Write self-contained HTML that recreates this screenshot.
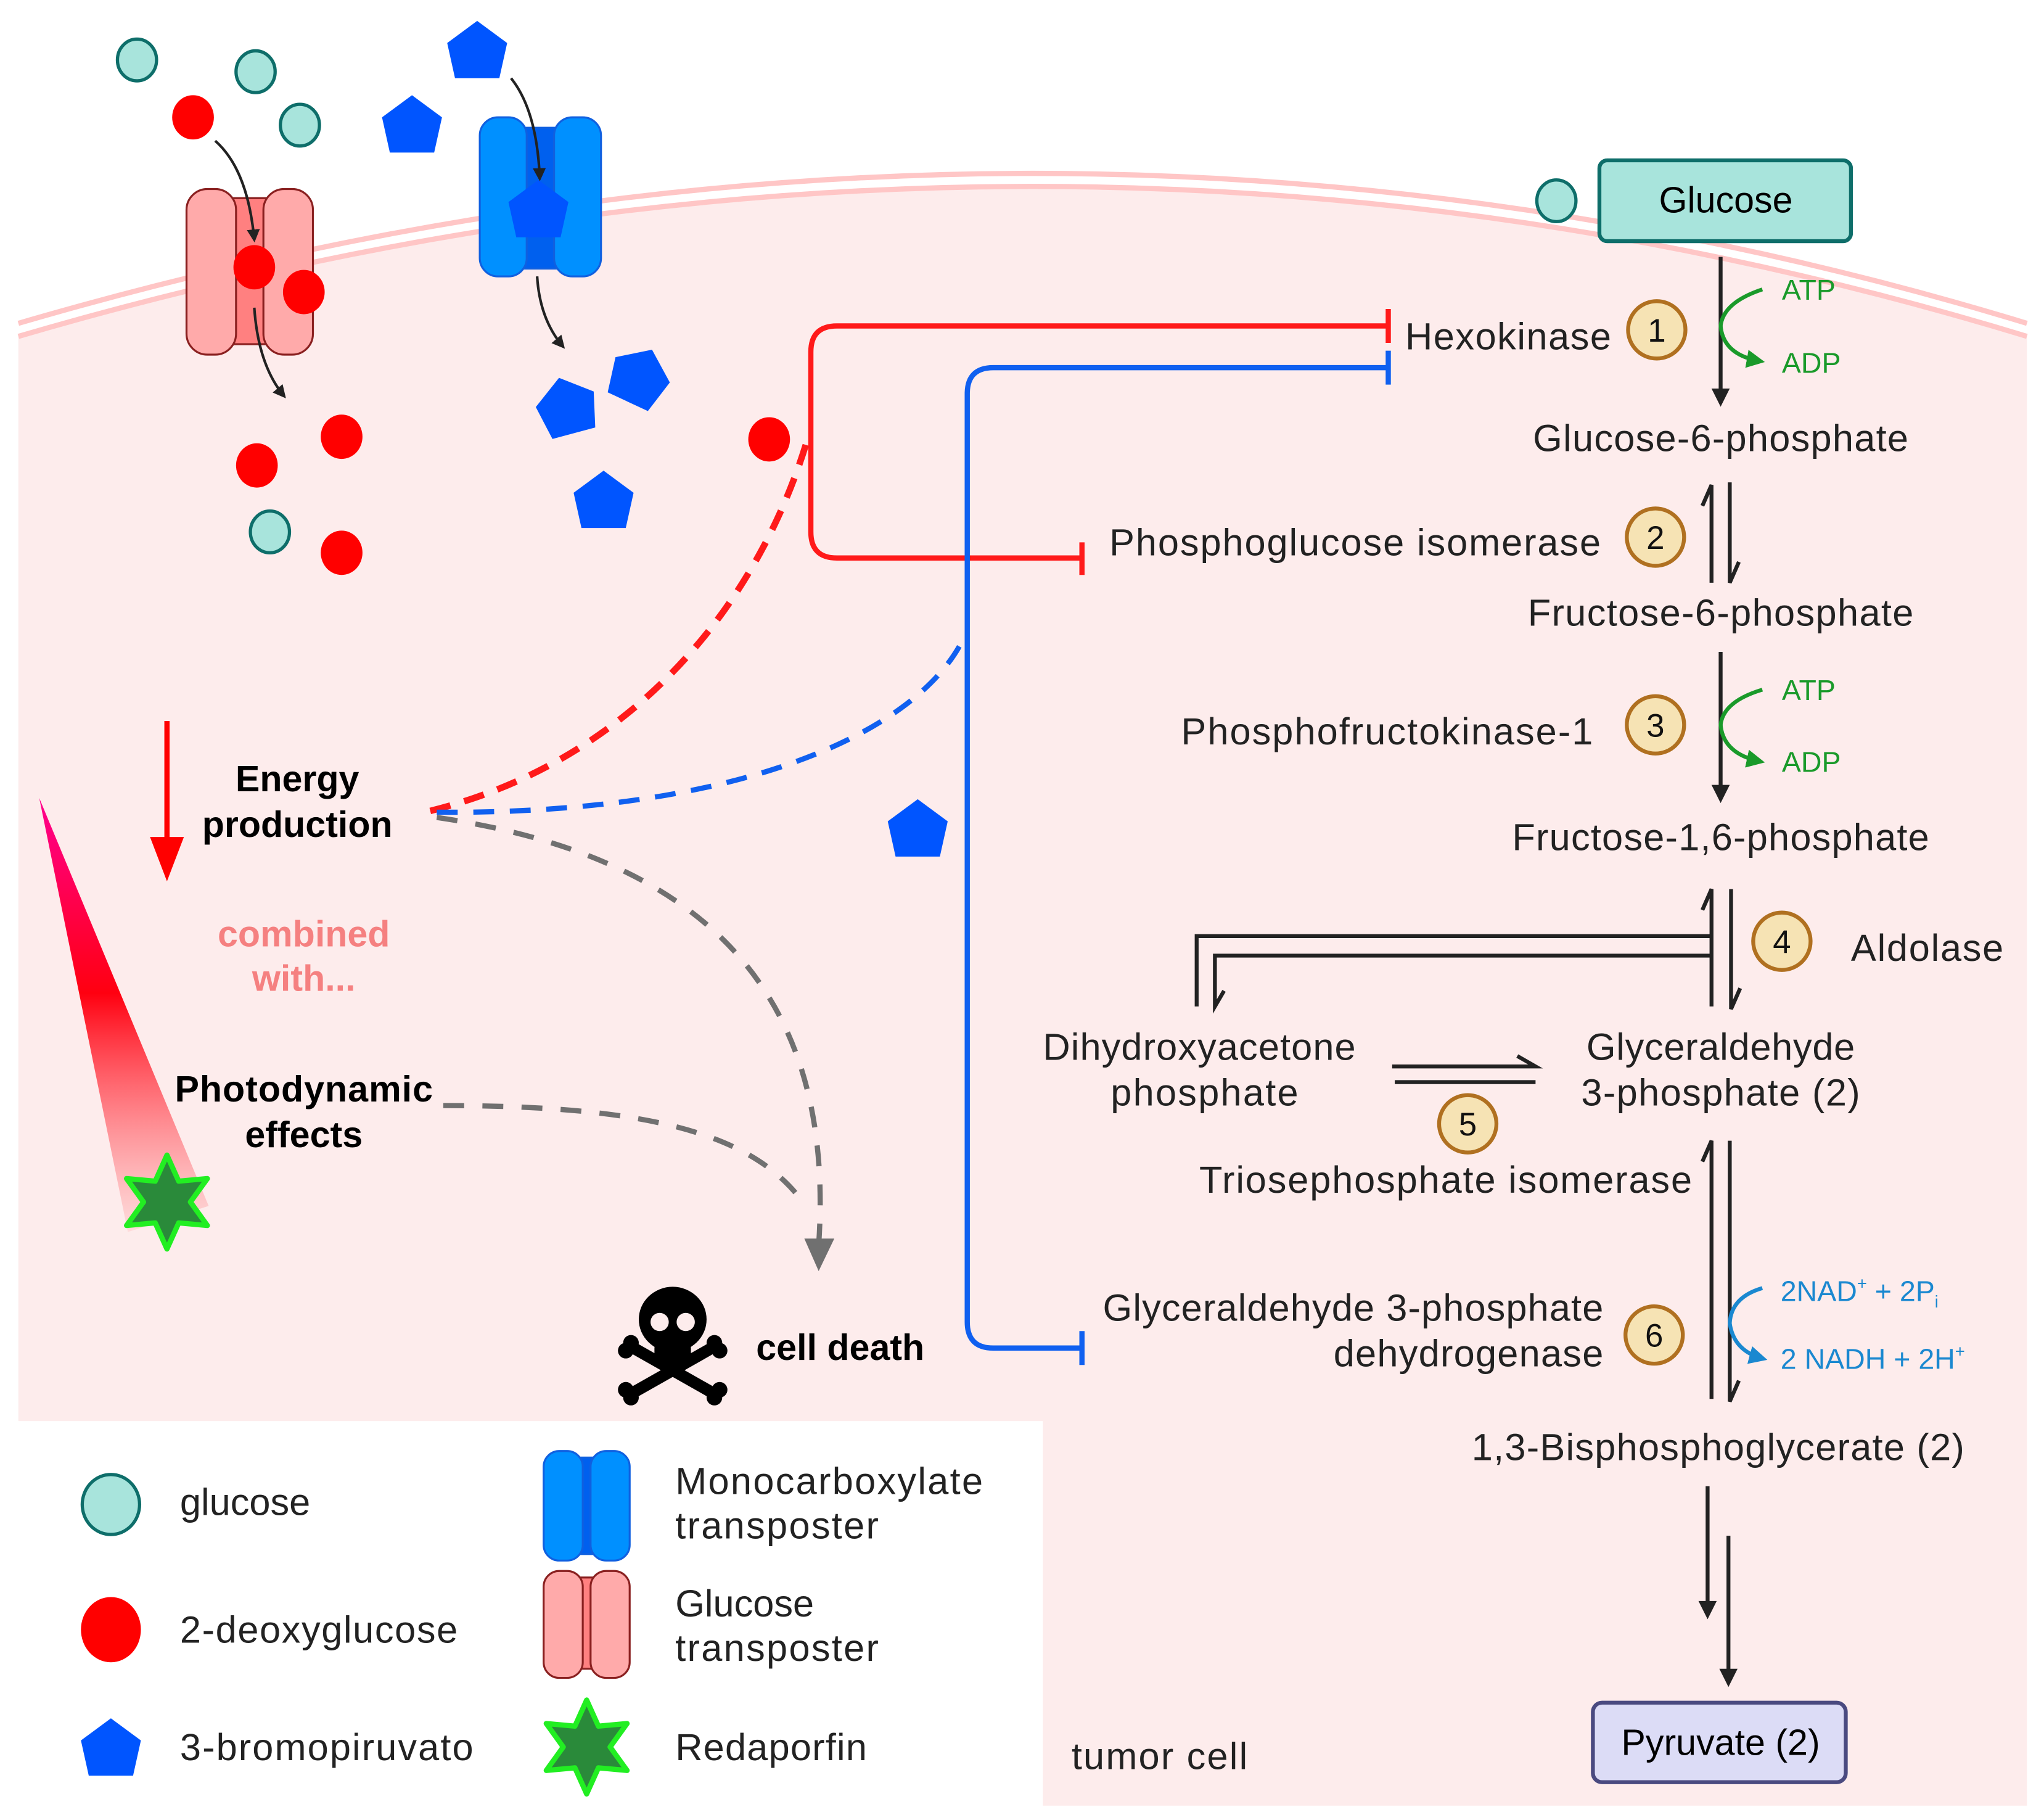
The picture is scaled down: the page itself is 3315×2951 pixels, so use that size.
<!DOCTYPE html>
<html><head><meta charset="utf-8"><style>html,body{margin:0;padding:0;background:#fff}svg{display:block}text{font-family:"Liberation Sans",sans-serif}</style></head><body>
<svg width="3315" height="2951" viewBox="0 0 1568 1396" xmlns="http://www.w3.org/2000/svg">
<defs>
<linearGradient id="cone" x1="0" y1="0" x2="0" y2="1"><stop offset="0" stop-color="#ff0090"/><stop offset="0.45" stop-color="#ff0010"/><stop offset="1" stop-color="#ffd0d0" stop-opacity="0.6"/></linearGradient>
<marker id="ab" markerWidth="10" markerHeight="10" refX="8" refY="5" orient="auto" markerUnits="userSpaceOnUse"><path d="M0,0 L10,5 L0,10 z" fill="#222"/></marker>
<marker id="ag" markerWidth="14" markerHeight="14" refX="10" refY="7" orient="auto" markerUnits="userSpaceOnUse"><path d="M0,0 L14,7 L0,14 z" fill="#1a9a2a"/></marker>
<marker id="abl" markerWidth="14" markerHeight="14" refX="10" refY="7" orient="auto" markerUnits="userSpaceOnUse"><path d="M0,0 L14,7 L0,14 z" fill="#1a88d0"/></marker>
<g id="pent"><polygon points="0,-24 23,-7 17,20 -17,20 -23,-7" fill="#0055ff"/></g>
<g id="star"><polygon points="0,-36 9,-16 31,-18 18,0 31,18 9,16 0,36 -9,16 -31,18 -18,0 -31,-18 -9,-16" fill="#2a8a3a" stroke="#22ee22" stroke-width="4" stroke-linejoin="round"/></g>
</defs>
<path d="M14,258 Q800,28 1555,258 L1555,1385 L800,1385 L800,1090 L14,1090 Z" fill="#fdecec"/>
<path d="M14,248 Q800,18 1555,248" fill="none" stroke="#ffc6c6" stroke-width="4"/>
<path d="M14,258 Q800,28 1555,258" fill="none" stroke="#ffc6c6" stroke-width="4"/>

<g stroke="#8a2020" stroke-width="1.5">
<rect x="175" y="152" width="33" height="112" fill="#ff8080"/>
<rect x="143" y="145" width="38" height="127" rx="16" fill="#ffaaaa"/>
<rect x="202" y="145" width="38" height="127" rx="16" fill="#ffaaaa"/>
</g>
<g stroke="#1060e0" stroke-width="1.5">
<rect x="395" y="98" width="40" height="108" fill="#0060ee"/>
<rect x="368" y="90" width="36" height="122" rx="14" fill="#0090ff"/>
<rect x="425" y="90" width="36" height="122" rx="14" fill="#0090ff"/>
</g>
<use href="#pent" x="413" y="162"/>

<g fill="#a8e4dc" stroke="#0e6e6a" stroke-width="2.5">
<ellipse cx="105" cy="46" rx="15" ry="16"/><ellipse cx="196" cy="55" rx="15" ry="16"/><ellipse cx="230" cy="96" rx="15" ry="16"/><ellipse cx="207" cy="408" rx="15" ry="16"/><ellipse cx="1194" cy="154" rx="15" ry="16"/>
</g>
<g fill="#ff0000">
<ellipse cx="148" cy="90" rx="16" ry="17"/><ellipse cx="195" cy="205" rx="16" ry="17"/><ellipse cx="233" cy="224" rx="16" ry="17"/><ellipse cx="262" cy="335" rx="16" ry="17"/><ellipse cx="197" cy="357" rx="16" ry="17"/><ellipse cx="262" cy="424" rx="16" ry="17"/><ellipse cx="590" cy="337" rx="16" ry="17"/>
</g>
<use href="#pent" x="366" y="40"/><use href="#pent" x="316" y="97"/>
<use href="#pent" transform="translate(435,313) rotate(-15)"/>
<use href="#pent" transform="translate(490,290) rotate(25)"/>
<use href="#pent" x="463" y="385"/><use href="#pent" x="704" y="637"/>
<g fill="none" stroke="#222" stroke-width="2" marker-end="url(#ab)">
<path d="M165,108 Q190,130 195,184"/>
<path d="M195,236 Q198,280 218,304"/>
<path d="M392,60 Q412,85 414,137"/>
<path d="M412,212 Q414,245 432,266"/>
</g>

<path d="M1065,250 L642,250 Q622,250 622,270 L622,408 Q622,428 642,428 L830,428" fill="none" stroke="#ff1a1a" stroke-width="4"/>
<path d="M1065,237 V263 M830,416 V441" stroke="#ff1a1a" stroke-width="4"/>
<path d="M1065,282 L762,282 Q742,282 742,302 L742,1014 Q742,1034 762,1034 L830,1034" fill="none" stroke="#1060f0" stroke-width="4"/>
<path d="M1065,269 V295 M830,1021 V1047" stroke="#1060f0" stroke-width="4"/>

<path d="M330,622 C480,585 580,470 620,335" fill="none" stroke="#ff1a1a" stroke-width="5" stroke-dasharray="16,11"/>
<path d="M335,623 C560,625 700,565 738,492" fill="none" stroke="#1060f0" stroke-width="4" stroke-dasharray="16,12"/>
<path d="M335,627 C560,660 640,780 628,955" fill="none" stroke="#707070" stroke-width="4" stroke-dasharray="16,14"/>
<path d="M340,848 C500,848 580,870 618,925" fill="none" stroke="#707070" stroke-width="4" stroke-dasharray="16,14"/>
<polygon points="617,950 640,950 628,975" fill="#707070"/>

<line x1="128" y1="553" x2="128" y2="645" stroke="#ff0000" stroke-width="4"/>
<polygon points="115,642 141,642 128,676" fill="#ff0000"/>
<g font-weight="bold" font-size="28" text-anchor="middle">
<text x="228" y="607">Energy</text><text x="228" y="642">production</text>
<text x="233" y="726" fill="#f58080">combined</text><text x="233" y="760" fill="#f58080">with...</text>
<text x="233" y="845" textLength="198">Photodynamic</text><text x="233" y="880">effects</text>
</g>
<polygon points="30,612 160,925 98,945" fill="url(#cone)"/>
<use href="#star" x="128" y="922"/>

<g transform="translate(516,1030)">
<line x1="-30" y1="4" x2="30" y2="38" stroke="#000" stroke-width="9" stroke-linecap="round"/>
<line x1="30" y1="4" x2="-30" y2="38" stroke="#000" stroke-width="9" stroke-linecap="round"/>
<circle cx="-32" cy="0" r="6"/><circle cx="-36" cy="6" r="6"/><circle cx="32" cy="0" r="6"/><circle cx="36" cy="6" r="6"/>
<circle cx="-32" cy="42" r="6"/><circle cx="-36" cy="36" r="6"/><circle cx="32" cy="42" r="6"/><circle cx="36" cy="36" r="6"/>
<ellipse cx="0" cy="-18" rx="26" ry="25"/><rect x="-14" y="0" width="28" height="16" rx="4"/>
<circle cx="-10" cy="-16" r="7" fill="#fdecec"/><circle cx="10" cy="-16" r="7" fill="#fdecec"/>
</g>
<text x="580" y="1043" font-size="28" font-weight="bold">cell death</text>

<rect x="1227" y="123" width="193" height="62" rx="6" fill="#a8e4dc" stroke="#0e6e6a" stroke-width="3"/>
<text x="1324" y="163" font-size="28" text-anchor="middle">Glucose</text>
<rect x="1222" y="1306" width="194" height="61" rx="7" fill="#dcdcf6" stroke="#4a4a80" stroke-width="3"/>
<text x="1320" y="1346" font-size="28" text-anchor="middle">Pyruvate (2)</text>

<g font-size="29" fill="#222">
<text x="1320" y="346" text-anchor="middle" textLength="288">Glucose-6-phosphate</text>
<text x="1320" y="480" text-anchor="middle" textLength="296">Fructose-6-phosphate</text>
<text x="1320" y="652" text-anchor="middle" textLength="320">Fructose-1,6-phosphate</text>
<text x="1320" y="813" text-anchor="middle" textLength="206">Glyceraldehyde</text>
<text x="1320" y="848" text-anchor="middle" textLength="214">3-phosphate (2)</text>
<text x="920" y="813" text-anchor="middle" textLength="240">Dihydroxyacetone</text>
<text x="924" y="848" text-anchor="middle" textLength="144">phosphate</text>
<text x="1318" y="1120" text-anchor="middle" textLength="378">1,3-Bisphosphoglycerate (2)</text>
<text x="1078" y="268" textLength="158">Hexokinase</text>
<text x="1228" y="426" text-anchor="end" textLength="377">Phosphoglucose isomerase</text>
<text x="1222" y="571" text-anchor="end" textLength="316">Phosphofructokinase-1</text>
<text x="1420" y="737" textLength="117">Aldolase</text>
<text x="1298" y="915" text-anchor="end" textLength="378">Triosephosphate isomerase</text>
<text x="1230" y="1013" text-anchor="end" textLength="384">Glyceraldehyde 3-phosphate</text>
<text x="1230" y="1048" text-anchor="end" textLength="207">dehydrogenase</text>
<text x="822" y="1357" textLength="135">tumor cell</text>
</g>

<g fill="#f6e3b4" stroke="#b07020" stroke-width="3">
<circle cx="1271" cy="253" r="22"/><circle cx="1270" cy="412" r="22"/><circle cx="1270" cy="556" r="22"/><circle cx="1367" cy="722" r="22"/><circle cx="1126" cy="862" r="22"/><circle cx="1269" cy="1024" r="22"/>
</g>
<g font-size="25" text-anchor="middle" fill="#111">
<text x="1271" y="262">1</text><text x="1270" y="421">2</text><text x="1270" y="565">3</text><text x="1367" y="731">4</text><text x="1126" y="871">5</text><text x="1269" y="1033">6</text>
</g>

<g stroke="#222" stroke-width="3" fill="none">
<line x1="1320" y1="197" x2="1320" y2="300"/>
<line x1="1320" y1="500" x2="1320" y2="604"/>
<path d="M1313,447 V372 L1306,388"/><path d="M1327,370 V447 L1334,431"/>
<path d="M1313,772 V682 L1306,698"/><path d="M1328,682 V774 L1335,758"/>
<path d="M1313,1073 V875 L1306,891"/><path d="M1327,875 V1075 L1334,1059"/>
<path d="M1313,718 H918 V772"/><path d="M1313,733 H932 V772 L939,760"/>
<path d="M1070,830 H1178"/><path d="M1068,818 H1178 L1164,810"/>
<line x1="1310" y1="1140" x2="1310" y2="1232"/>
<line x1="1326" y1="1178" x2="1326" y2="1284"/>
</g>
<g fill="#222">
<polygon points="1313,298 1327,298 1320,312"/><polygon points="1313,602 1327,602 1320,616"/>
<polygon points="1303,1228 1317,1228 1310,1242"/><polygon points="1319,1280 1333,1280 1326,1294"/>
</g>
<g fill="none" stroke="#1a9a2a" stroke-width="3">
<path d="M1352,222 Q1322,232 1320,250 Q1322,272 1350,277" marker-end="url(#ag)"/>
<path d="M1352,529 Q1322,538 1320,556 Q1322,578 1350,584" marker-end="url(#ag)"/>
</g>
<g font-size="22" fill="#1a9a2a"><text x="1367" y="230">ATP</text><text x="1367" y="286">ADP</text><text x="1367" y="537">ATP</text><text x="1367" y="592">ADP</text></g>
<path d="M1352,988 Q1328,995 1327,1015 Q1330,1036 1352,1042" fill="none" stroke="#1a88d0" stroke-width="3" marker-end="url(#abl)"/>
<g font-size="22" fill="#1a88d0"><text x="1366" y="998">2NAD<tspan font-size="13" dy="-9">+</tspan><tspan dy="9"> + 2P</tspan><tspan font-size="13" dy="5">i</tspan></text>
<text x="1366" y="1050">2 NADH + 2H<tspan font-size="13" dy="-9">+</tspan></text></g>

<ellipse cx="85" cy="1154" rx="22" ry="23" fill="#a8e4dc" stroke="#0e6e6a" stroke-width="2.5"/>
<ellipse cx="85" cy="1250" rx="23" ry="25" fill="#ff0000"/>
<use href="#pent" x="85" y="1342"/>
<g stroke="#1060e0" stroke-width="1.5"><rect x="433" y="1118" width="34" height="74" fill="#0060ee"/><rect x="417" y="1113" width="30" height="84" rx="12" fill="#0090ff"/><rect x="453" y="1113" width="30" height="84" rx="12" fill="#0090ff"/></g>
<g stroke="#8a2020" stroke-width="1.5"><rect x="433" y="1210" width="34" height="70" fill="#ff8080"/><rect x="417" y="1205" width="30" height="82" rx="12" fill="#ffaaaa"/><rect x="453" y="1205" width="30" height="82" rx="12" fill="#ffaaaa"/></g>
<use href="#star" x="450" y="1340"/>
<g font-size="29" fill="#222">
<text x="138" y="1162">glucose</text><text x="138" y="1260" textLength="213">2-deoxyglucose</text><text x="138" y="1350" textLength="225">3-bromopiruvato</text>
<text x="518" y="1146" textLength="236">Monocarboxylate</text><text x="518" y="1180" textLength="156">transposter</text>
<text x="518" y="1240">Glucose</text><text x="518" y="1274" textLength="156">transposter</text>
<text x="518" y="1350" textLength="147">Redaporfin</text>
</g>
</svg>
</body></html>
